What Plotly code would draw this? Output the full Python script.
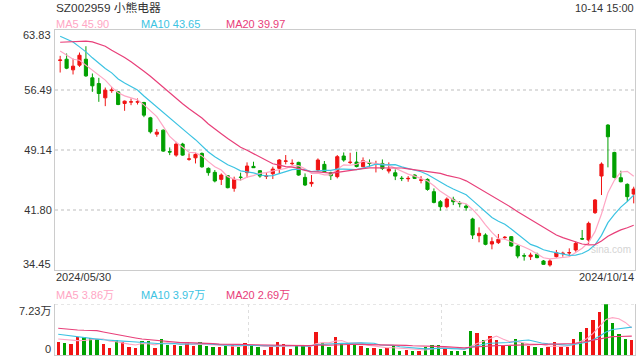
import plotly.graph_objects as go
import pandas as pd

# ---------------- data ----------------
title_text = "SZ002959 小熊电器"
time_text = "10-14 15:00"
start_label = "2024/05/30"
end_label = "2024/10/14"
price_grid = [56.49, 49.14, 41.80]
price_grid_text = ["56.49", "49.14", "41.80"]
price_top, price_bottom = 63.83, 34.45
price_top_text, price_bottom_text = "63.83", "34.45"
vol_max = 7.23
vol_top_text, vol_bottom_text = "7.23万", "0"
ma_labels = ["MA5 45.90", "MA10 43.65", "MA20 39.97"]
vol_ma_labels = ["MA5 3.86万", "MA10 3.97万", "MA20 2.69万"]

opens = [60.10, 60.25, 58.95, 59.52, 60.25, 57.97, 57.27, 55.52, 56.40, 56.25,
         54.83, 55.00, 55.00, 54.95, 53.07, 51.07, 51.56, 48.93, 48.50, 49.85,
         48.00, 48.17, 48.71, 46.88, 46.39, 45.53, 45.98, 44.43, 45.80, 46.35,
         47.12, 46.59, 45.90, 46.22, 46.88, 47.75, 47.45, 47.61, 45.77, 45.00,
         46.67, 47.37, 46.35, 45.86, 48.39, 47.59, 47.65, 47.08, 47.55, 47.40,
         47.48, 46.55, 46.34, 45.67, 45.60, 46.06, 45.43, 45.53, 44.02, 42.79,
         42.18, 43.08, 42.60, 42.26, 40.67, 38.63, 38.71, 37.61, 37.78, 38.39,
         38.51, 37.37, 36.18, 36.06, 36.35, 35.53, 35.04, 36.06, 36.45, 36.52,
         36.88, 38.27, 38.10, 41.45, 45.94, 52.18, 48.83, 45.73, 44.92, 43.73]
highs = [60.66, 60.95, 60.33, 61.07, 61.84, 58.50, 57.97, 56.78, 56.87, 56.34,
         55.19, 55.44, 55.44, 55.03, 53.19, 51.69, 51.64, 49.44, 50.13, 50.01,
         48.71, 48.79, 48.83, 47.00, 46.67, 46.26, 46.06, 45.86, 46.35, 47.61,
         47.69, 46.67, 46.39, 47.08, 48.02, 48.51, 47.98, 47.69, 46.26, 46.06,
         48.10, 47.78, 46.47, 48.51, 48.83, 48.79, 48.91, 48.22, 47.97, 47.81,
         47.97, 47.61, 46.75, 45.93, 45.93, 46.14, 45.93, 45.65, 44.42, 42.99,
         43.32, 43.40, 42.87, 42.51, 40.83, 39.65, 38.92, 38.43, 38.84, 38.59,
         38.59, 37.49, 36.47, 36.55, 36.55, 35.65, 35.74, 36.88, 36.67, 37.08,
         37.90, 39.33, 40.35, 43.12, 47.61, 52.30, 48.91, 46.59, 45.04, 44.63]
lows = [58.62, 59.03, 58.38, 59.31, 58.09, 56.25, 55.03, 54.50, 56.13, 54.62,
        53.93, 54.62, 54.70, 53.15, 51.15, 50.75, 48.91, 48.50, 48.30, 48.42,
        47.81, 47.48, 46.95, 45.98, 45.16, 44.84, 44.43, 44.02, 45.37, 45.73,
        46.96, 45.73, 45.57, 45.57, 46.26, 47.37, 47.28, 45.98, 44.71, 44.63,
        46.47, 46.35, 45.45, 45.65, 47.69, 47.40, 47.00, 47.00, 47.08, 46.38,
        46.67, 46.26, 45.44, 45.32, 45.24, 45.57, 45.04, 44.14, 42.59, 41.69,
        41.98, 42.38, 42.10, 41.69, 38.22, 37.82, 37.45, 36.96, 37.61, 38.18,
        37.29, 35.86, 35.57, 35.65, 35.86, 35.08, 34.84, 35.94, 36.06, 36.06,
        36.67, 38.10, 37.61, 41.29, 43.61, 47.00, 45.65, 45.16, 42.79, 42.59]
closes = [60.15, 59.15, 59.40, 60.74, 58.21, 56.99, 56.05, 56.46, 56.46, 54.70,
          55.11, 55.03, 55.03, 53.40, 51.36, 51.31, 48.99, 48.88, 49.85, 48.50,
          48.03, 48.58, 47.07, 46.35, 45.33, 46.06, 44.51, 45.53, 45.77, 47.16,
          46.96, 45.94, 45.94, 46.79, 47.90, 47.78, 47.49, 46.06, 44.84, 45.16,
          47.90, 46.47, 45.98, 48.31, 47.90, 47.63, 47.10, 47.81, 47.47, 47.43,
          46.87, 46.79, 45.93, 45.63, 45.65, 45.65, 45.46, 44.30, 42.71, 42.18,
          43.12, 42.79, 42.55, 42.06, 38.71, 38.92, 37.57, 37.90, 38.18, 38.43,
          37.37, 36.14, 36.14, 36.26, 35.94, 35.12, 35.53, 36.55, 36.47, 36.55,
          37.69, 38.22, 40.14, 43.00, 47.40, 50.75, 45.77, 45.24, 43.41, 44.34]
volumes = [1.90, 1.71, 1.62, 2.57, 2.57, 2.43, 2.24, 1.62, 1.00, 2.14,
           1.86, 1.14, 1.00, 2.05, 2.00, 1.05, 2.28, 1.43, 1.43, 1.28,
           1.81, 1.33, 1.86, 1.28, 1.19, 1.14, 1.28, 1.43, 1.19, 1.71,
           1.33, 1.19, 0.71, 1.19, 1.86, 1.57, 0.86, 1.33, 1.33, 1.19,
           3.28, 1.71, 1.14, 2.57, 1.62, 1.52, 1.62, 1.28, 1.00, 1.00,
           0.90, 1.00, 1.28, 0.57, 0.71, 0.57, 0.57, 1.14, 1.38, 1.38,
           0.95, 0.57, 0.57, 0.57, 3.42, 3.14, 2.09, 2.71, 2.14, 1.33,
           1.28, 2.28, 1.76, 1.28, 1.14, 1.00, 1.14, 1.86, 1.14, 1.14,
           2.28, 3.28, 3.80, 4.95, 6.10, 7.23, 4.55, 3.05, 2.28, 2.19]

# moving-average values at the start of the window (read from the picture,
# their history lies before the first visible day)
ma5_head = [61.27, 60.74, 60.25, 60.13]
ma10_head = [63.07, 62.70, 62.37, 61.76, 61.15, 60.42, 59.72, 59.11, 58.58]
ma20_head = [62.33, 62.37, 62.41, 62.41, 62.46, 62.37, 62.13, 61.84, 61.35, 60.95,
             60.46, 59.93, 59.40, 58.78, 58.17, 57.48, 56.78, 56.05, 55.44]
vma5_head = [2.28, 2.20, 2.10, 2.05]
vma10_head = [2.95, 2.82, 2.70, 2.58, 2.47, 2.37, 2.27, 2.17, 2.08]
vma20_head = [3.81, 3.71, 3.62, 3.57, 3.52, 3.52, 3.47, 3.28, 3.09, 2.90,
              2.71, 2.57, 2.43, 2.28, 2.19, 2.05, 1.96, 1.89, 1.82]

# ---------------- derived ----------------
def moving(values, n, head):
    out = pd.Series(values).rolling(n).mean().tolist()
    out[:len(head)] = head
    return out

ma5 = moving(closes, 5, ma5_head)
ma10 = moving(closes, 10, ma10_head)
ma20 = moving(closes, 20, ma20_head)
vma5 = moving(volumes, 5, vma5_head)
vma10 = moving(volumes, 10, vma10_head)
vma20 = moving(volumes, 20, vma20_head)

n = len(closes)
idx = list(range(n))
cx = [i + 0.3 for i in idx]

RED = "#f01414"
GREEN = "#00a000"
C5, C10, C20 = "#ffa6c4", "#3cc3e2", "#e8407a"
FONT = "Liberation Sans, Arial, Noto Sans CJK SC, sans-serif"
vol_colors = [RED if c >= o else GREEN for o, c in zip(opens, closes)]

fig = go.Figure()
fig.add_trace(go.Candlestick(
    x=cx, open=opens, high=highs, low=lows, close=closes,
    increasing=dict(line=dict(color=RED, width=1), fillcolor=RED),
    decreasing=dict(line=dict(color=GREEN, width=1), fillcolor=GREEN),
    xaxis="x", yaxis="y", hoverinfo="skip"))
for vals, col in [(ma5, C5), (ma10, C10), (ma20, C20)]:
    fig.add_trace(go.Scatter(x=cx, y=vals, mode="lines",
                             line=dict(color=col, width=1.2),
                             xaxis="x", yaxis="y", hoverinfo="skip"))
fig.add_trace(go.Bar(x=idx, y=volumes, marker=dict(color=vol_colors, line=dict(width=0)),
                     width=0.52, xaxis="x2", yaxis="y2", hoverinfo="skip"))
for vals, col in [(vma5, C5), (vma10, C10), (vma20, C20)]:
    fig.add_trace(go.Scatter(x=idx, y=vals, mode="lines",
                             line=dict(color=col, width=1.1),
                             xaxis="x2", yaxis="y2", hoverinfo="skip"))

# ---------------- layout ----------------
L, R, T, B = 55, 635, 30, 355

def px(x):
    return (x - L) / (R - L)

def py(y):
    return (B - y) / (B - T)

main_dom = [py(269.8), 1]
vol_dom = [0, py(304.3)]
xr = [-0.5, n - 0.5]

ann = []

def text(x, y, s, color="#333333", size=11, anchor="left"):
    ann.append(dict(x=px(x), y=py(y), xref="paper", yref="paper", text=s,
                    showarrow=False, xanchor=anchor, yanchor="middle",
                    font=dict(family=FONT, size=size, color=color)))

text(54, 7.5, title_text, size=11.8)
text(636, 8, time_text, anchor="right")
for xpos, lab, col in zip([54, 139, 224], ma_labels, [C5, C10, C20]):
    text(xpos, 24, lab, color=col)
text(54, 277, start_label)
text(636, 277, end_label, anchor="right")
for xpos, lab, col in zip([54, 139, 224], vol_ma_labels, [C5, C10, C20]):
    text(xpos, 295, lab, color=col)
text(53, 35, price_top_text, anchor="right")
text(53, 264, price_bottom_text, anchor="right")
text(53, 310.5, vol_top_text, anchor="right")
text(53, 348.5, vol_bottom_text, anchor="right")
ann.append(dict(x=px(611), y=py(249), xref="paper", yref="paper", text="sina.com",
                showarrow=False, xanchor="center", yanchor="middle",
                font=dict(family=FONT, size=10, color="#d4d4d4")))

fig.update_layout(
    width=640, height=360, autosize=False,
    margin=dict(l=L, r=640 - R, t=T, b=360 - B, pad=0),
    paper_bgcolor="white", plot_bgcolor="white",
    showlegend=False, hovermode=False, bargap=0,
    annotations=ann,
    xaxis=dict(domain=[0, 1], range=xr, anchor="y", showgrid=False, zeroline=False,
               showticklabels=False, ticks="", showline=True, linecolor="#cccccc",
               linewidth=1, mirror=True, rangeslider=dict(visible=False), fixedrange=True),
    yaxis=dict(domain=main_dom, range=[price_bottom, price_top], anchor="x",
               tickvals=price_grid, ticktext=price_grid_text, ticks="",
               tickfont=dict(family=FONT, size=11, color="#333333"),
               showgrid=True, gridcolor="#dedede", griddash="dot", gridwidth=1.5,
               zeroline=False, showline=True, linecolor="#cccccc", linewidth=1,
               mirror=True, fixedrange=True),
    xaxis2=dict(domain=[0, 1], range=xr, anchor="y2", tickvals=[29.5, 59.5],
                showticklabels=False, ticks="", showgrid=True, gridcolor="#dedede",
                griddash="dot", gridwidth=1.5, zeroline=False, showline=True,
                linecolor="#cccccc", linewidth=1, mirror=False, fixedrange=True),
    yaxis2=dict(domain=vol_dom, range=[0, vol_max], anchor="x2", showgrid=False,
                showticklabels=False, ticks="", zeroline=False, showline=True,
                linecolor="#cccccc", linewidth=1, mirror=True, fixedrange=True),
    shapes=[dict(type="line", xref="x2 domain", yref="y2", x0=0, x1=1,
                 y0=vol_max, y1=vol_max, layer="below",
                 line=dict(color="#dedede", width=1.5, dash="dot"))],
)

fig.write_html("out.html", config={"displayModeBar": False, "staticPlot": True},
               post_script="document.body.style.margin='0';document.body.style.overflow='hidden';")
